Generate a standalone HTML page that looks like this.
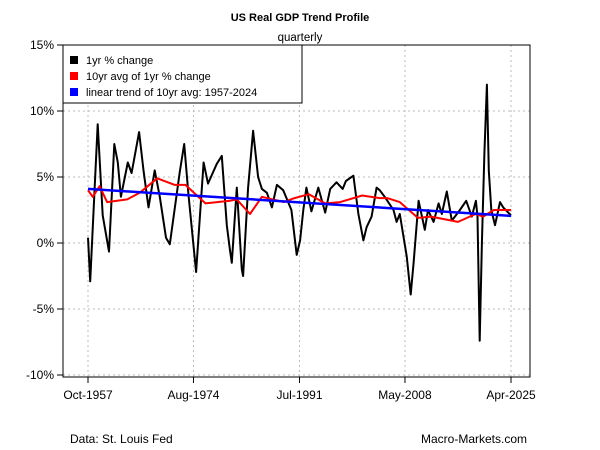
<!DOCTYPE html>
<html><head><meta charset="utf-8"><style>
body{margin:0;background:#fff;}
svg{display:block;font-family:"Liberation Sans",Arial,sans-serif;}
</style></head><body>
<svg id="chart" width="600" height="450">
<text x="300" y="21" text-anchor="middle" font-size="11" font-weight="bold">US Real GDP Trend Profile</text>
<text x="300" y="41" text-anchor="middle" font-size="11.5">quarterly</text>
<g id="grid"></g><g id="series"></g><g id="axes"></g>
<g>
<rect x="63" y="45" width="239" height="58" fill="#fff" stroke="#000"/>
<rect x="70" y="56" width="8" height="8" fill="#000"/>
<text x="86" y="64" font-size="11">1yr % change</text>
<rect x="70" y="72" width="8" height="8" fill="#f00"/>
<text x="86" y="80" font-size="11">10yr avg of 1yr % change</text>
<rect x="70" y="88" width="8" height="8" fill="#00f"/>
<text x="86" y="96" font-size="11">linear trend of 10yr avg: 1957-2024</text>
</g>
<text x="70" y="443" font-size="12">Data: St. Louis Fed</text>
<text x="527" y="443" font-size="12" text-anchor="end">Macro-Markets.com</text>
</svg>
<script>
const yTicks=[15,10,5,0,-5,-10];
const yTickLabels=["15%","10%","5%","0%","-5%","-10%"];
const xTicks=[1957.75,1974.58,1991.5,2008.33,2025.25];
const xTickLabels=["Oct-1957","Aug-1974","Jul-1991","May-2008","Apr-2025"];
const yoyDates=[1957.75,1958.1,1959.3,1960.1,1961.1,1961.95,1962.5,1963,1964.1,1964.7,1965.9,1966.6,1967.4,1968.4,1969.2,1970.2,1970.8,1972.4,1973.1,1973.75,1975,1976.2,1976.9,1978.3,1979.1,1979.9,1980.4,1980.7,1981.5,1982.3,1982.5,1983.3,1984.1,1984.9,1985.5,1986.3,1987.1,1987.9,1988.9,1989.6,1990.2,1991.05,1991.6,1992.1,1992.6,1993.4,1994.5,1995.6,1996.4,1997.4,1998.4,1998.9,2000.1,2000.9,2001.7,2002.2,2003,2003.8,2004.3,2005.1,2006.5,2007,2007.5,2008.6,2009.25,2009.7,2010.5,2011.5,2012,2012.9,2013.7,2014.2,2015,2015.8,2016.3,2017.1,2018.1,2019,2019.65,2019.9,2020.25,2020.6,2021,2021.4,2021.7,2022.1,2022.7,2023.5,2024,2025.25];
const yoyValues=[0.4,-2.9,9.0,2.1,-0.65,7.5,6.1,3.5,6.1,5.3,8.4,5.5,2.7,5.5,3.5,0.4,-0.1,5.4,7.5,3.8,-2.2,6.1,4.5,6.0,6.6,1.35,-0.5,-1.5,4.2,-2.0,-2.5,4.2,8.5,5.0,4.1,3.8,2.7,4.4,4.0,3.2,2.5,-0.9,0.2,2.5,4.2,2.4,4.2,2.3,4.1,4.6,4.1,4.7,5.1,2.2,0.2,1.2,2.0,4.2,4.0,3.5,2.5,1.6,2.2,-1.0,-3.9,-1.5,3.2,1.0,2.5,1.6,3.0,2.2,3.9,1.7,2.0,2.5,3.2,2.0,3.2,2.0,-7.4,0.0,6.8,12.0,5.5,2.5,1.35,3.1,2.7,2.1];
const avgDates=[1957.75,1958.5,1959.6,1960.8,1964,1966,1968.8,1971.6,1973.3,1976.5,1980.4,1981.5,1983.6,1985.5,1989,1990.7,1993,1995.6,1998,2001.5,2004.3,2005.5,2007.5,2010.4,2012.5,2016.8,2019.6,2020.8,2022.5,2025.25];
const avgValues=[4.0,3.5,4.3,3.1,3.3,3.8,4.9,4.4,4.4,3.0,3.2,3.3,2.2,3.5,3.1,3.4,3.7,3.0,3.1,3.6,3.4,3.4,3.1,1.9,2.0,1.6,2.2,2.0,2.5,2.5];
const trendDates=[1957.75,2025.25];
const trendValues=[4.1,2.05];

const L=63,R=530,T=45,B=377;
const xs=d=>88+(d-1957.75)*(511-88)/(2025.25-1957.75);
const ys=v=>243-v*(243-45)/15;
const NS="http://www.w3.org/2000/svg";
function mk(tag,parent,attrs){const e=document.createElementNS(NS,tag);for(const k in attrs)e.setAttribute(k,attrs[k]);parent.appendChild(e);return e;}
const grid=document.getElementById('grid'),ax=document.getElementById('axes'),ser=document.getElementById('series');
yTicks.forEach((v,i)=>{
 const g=mk('line',grid,{x1:L,x2:R,y1:ys(v),y2:ys(v),stroke:'#bbb','stroke-dasharray':'2,3'});
 
 
 const t=mk('line',ax,{x1:L-6,x2:L,y1:ys(v),y2:ys(v),stroke:'#000'});
 
 
 const tx=mk('text',ax,{x:L-9,y:ys(v)+4,'text-anchor':'end','font-size':'12'});
 tx.textContent=yTickLabels[i];
 
 
});
xTicks.forEach((d,i)=>{
 const g=mk('line',grid,{x1:xs(d),x2:xs(d),y1:T,y2:B,stroke:'#bbb','stroke-dasharray':'2,3'});
 
 
 const t=mk('line',ax,{x1:xs(d),x2:xs(d),y1:B,y2:B+6,stroke:'#000'});
 
 
 const tx=mk('text',ax,{x:xs(d),y:B+22,'text-anchor':'middle','font-size':'12'});
 tx.textContent=xTickLabels[i];
 
 
});
const box=mk('rect',ax,{x:L,y:T,width:R-L,height:B-T,fill:'none',stroke:'#000'});


function line(ds,vs,color,w,name){
 const p=mk('polyline',ser,{points:ds.map((d,i)=>xs(d).toFixed(1)+','+ys(vs[i]).toFixed(1)).join(' '),fill:'none',stroke:color,'stroke-width':w,'stroke-linejoin':'round'});
 
 
}
line(yoyDates,yoyValues,'#000',2,'line-1yr-change');
line(avgDates,avgValues,'#f00',2,'line-10yr-avg');
line(trendDates,trendValues,'#00f',2.5,'line-linear-trend');
</script>
</body></html>
